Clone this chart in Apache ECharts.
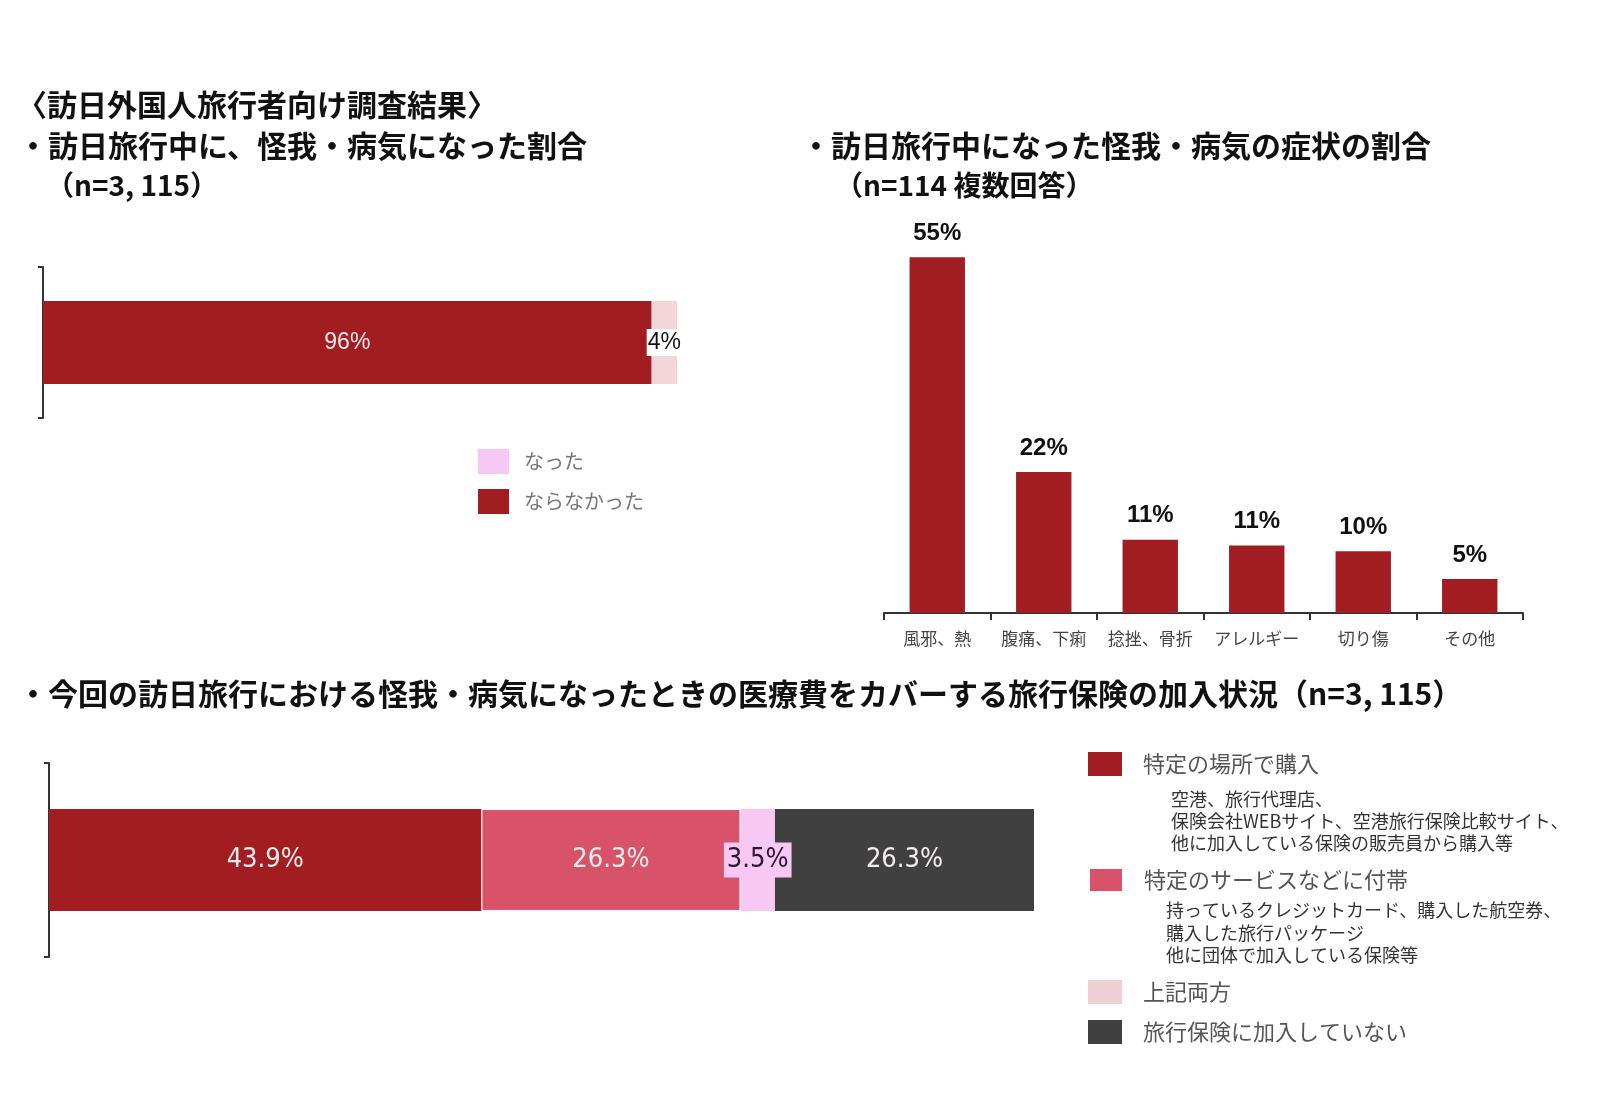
<!DOCTYPE html>
<html><head><meta charset="utf-8">
<script src="https://cdn.jsdelivr.net/npm/echarts@6/dist/echarts.min.js"></script>
<style>html,body{margin:0;padding:0;background:#fff}#c{width:1600px;height:1108px}</style>
</head><body><div id="c"></div>
<script>
// ---- data ----
const illNames = ['なった', 'ならなかった'];
const illValues = { 'ならなかった': 96, 'なった': 4 };
const symptomCats = ['風邪、熱', '腹痛、下痢', '捻挫、骨折', 'アレルギー', '切り傷', 'その他'];
const symptomValues = [55.3, 21.9, 11.4, 10.5, 9.6, 5.3];
const insNames = ['特定の場所で購入', '特定のサービスなどに付帯', '上記両方', '旅行保険に加入していない'];
const insValues = [43.9, 26.3, 3.5, 26.3];
const insNotes = [
  ['空港、旅行代理店、', '保険会社WEBサイト、空港旅行保険比較サイト、', '他に加入している保険の販売員から購入等'],
  ['持っているクレジットカード、購入した航空券、', '購入した旅行パッケージ', '他に団体で加入している保険等']
];
const titles = {
  main: '〈訪日外国人旅行者向け調査結果〉',
  left: '・訪日旅行中に、怪我・病気になった割合',
  leftN: '（n=3, 115）',
  right: '・訪日旅行中になった怪我・病気の症状の割合',
  rightN: '（n=114 複数回答）',
  bottom: '・今回の訪日旅行における怪我・病気になったときの医療費をカバーする旅行保険の加入状況（n=3, 115）'
};

// ---- styles ----
const RED = '#a11d22', PINK = '#d8526a', LIGHT = '#f8c8f5', DARK = '#404040', PALE = '#f4d6da';
const JP = '"Noto Sans CJK JP", sans-serif';
const NARROW = '"Liberation Sans Narrow", "DejaVu Sans Condensed", "Arial Narrow", "Liberation Sans", sans-serif';
const axisStyle = { lineStyle: { color: '#333', width: 2 } };

const chart = echarts.init(document.getElementById('c'));

function txt(text, x, y, size, opts) {
  opts = opts || {};
  return {
    type: 'text', x: x, y: y, silent: true,
    style: {
      text: text, fill: opts.color || '#111',
      font: (opts.weight || 'bold') + ' ' + size + 'px ' + JP,
      textVerticalAlign: 'middle', verticalAlign: 'middle'
    }
  };
}

const graphics = [
  txt(titles.main, 17, 105, 30),
  txt(titles.left, 18, 146, 30),
  txt(titles.leftN, 46, 185, 28),
  txt(titles.right, 801, 146, 30),
  txt(titles.rightN, 835, 185, 28),
  txt(titles.bottom, 18, 694, 30)
];
const noteX = [1171, 1166];
const noteY = [[799, 821, 843], [910, 933, 955]];
insNotes.forEach((lines, i) => lines.forEach((l, j) => {
  graphics.push(txt(l, noteX[i], noteY[i][j], 18, { weight: 'normal', color: '#333' }));
}));

const legendTops = [752, 867, 980, 1020];
const legendColors = [RED, PINK, '#efcfd1', DARK];
const bottomLegends = insNames.map((n, i) => ({
  data: [{ name: n, itemStyle: { color: legendColors[i] } }],
  left: 1088, top: legendTops[i], padding: 0, itemWidth: 34, itemHeight: 24, icon: 'rect',
  selectedMode: false,
  textStyle: { fontFamily: JP, fontSize: 22, color: '#555', padding: [0, 0, 0, 16] }
}));

const option = {
  animation: false,
  backgroundColor: '#fff',
  graphic: graphics,
  legend: [{
    data: [{ name: 'なった', itemStyle: { color: LIGHT } }, { name: 'ならなかった' }],
    orient: 'vertical', left: 478, top: 449, padding: 0, itemWidth: 31, itemHeight: 25, itemGap: 15,
    icon: 'rect', selectedMode: false,
    textStyle: { fontFamily: JP, fontSize: 20, color: '#777', padding: [0, 0, 0, 10] }
  }].concat(bottomLegends),
  grid: [
    { left: 43, top: 267, width: 634, height: 151 },
    { left: 884, top: 227, width: 639, height: 386 },
    { left: 49, top: 763, width: 985, height: 194 }
  ],
  xAxis: [
    { gridIndex: 0, type: 'value', min: 0, max: 100, show: false },
    { gridIndex: 1, type: 'category', data: symptomCats,
      axisLine: axisStyle, axisTick: { show: true, length: 7, lineStyle: { color: '#333', width: 2 } },
      axisLabel: { fontFamily: JP, fontSize: 17, color: '#444', margin: 17, interval: 0 } },
    { gridIndex: 2, type: 'value', min: 0, max: 100, show: false }
  ],
  yAxis: [
    { gridIndex: 0, type: 'category', data: [''], axisLine: axisStyle,
      axisTick: { show: true, length: 5, lineStyle: { color: '#333', width: 2 } }, axisLabel: { show: false } },
    { gridIndex: 1, type: 'value', min: 0, max: 60, show: false },
    { gridIndex: 2, type: 'category', data: [''], axisLine: axisStyle,
      axisTick: { show: true, length: 5, lineStyle: { color: '#333', width: 2 } }, axisLabel: { show: false } }
  ],
  series: [
    { name: 'ならなかった', type: 'bar', stack: 'top', xAxisIndex: 0, yAxisIndex: 0, barWidth: '55%',
      data: [illValues['ならなかった']], itemStyle: { color: RED },
      label: { show: true, position: 'inside', formatter: '{c}%', color: '#f7e6e6', fontSize: 23, fontFamily: '"Liberation Sans", Arial, sans-serif' } },
    { name: 'なった', type: 'bar', stack: 'top', xAxisIndex: 0, yAxisIndex: 0, barWidth: '55%',
      data: [illValues['なった']], itemStyle: { color: PALE },
      label: { show: true, position: 'inside', formatter: '{c}%', color: '#111', fontSize: 23,
        fontFamily: '"Liberation Sans", Arial, sans-serif', backgroundColor: '#fff', padding: [3, 1, 1, 1] } },
    { name: '症状', type: 'bar', xAxisIndex: 1, yAxisIndex: 1, barWidth: '52%',
      data: symptomValues, itemStyle: { color: RED },
      label: { show: true, position: 'top', distance: 12, color: '#111', fontSize: 24, fontWeight: 'bold',
        fontFamily: '"Liberation Sans", Arial, sans-serif', formatter: p => Math.round(p.value) + '%' } }
  ].concat(insNames.map((n, i) => ({
    name: n, type: 'bar', stack: 'bottom', xAxisIndex: 2, yAxisIndex: 2, barWidth: '52.5%',
    data: [insValues[i]],
    itemStyle: { color: [RED, PINK, LIGHT, DARK][i], borderColor: i === 1 ? '#fff' : undefined, borderWidth: i === 1 ? 1 : 0 },
    label: i === 2 ? { show: true, position: 'inside', formatter: '{c}%', color: '#2a1838', fontSize: 27,
        fontFamily: NARROW, backgroundColor: LIGHT, padding: [5, 3, 3, 3] }
      : { show: true, position: 'inside', formatter: '{c}%', color: '#f5eded', fontSize: 27, fontFamily: NARROW }
  })))
};
chart.setOption(option);
</script></body></html>
